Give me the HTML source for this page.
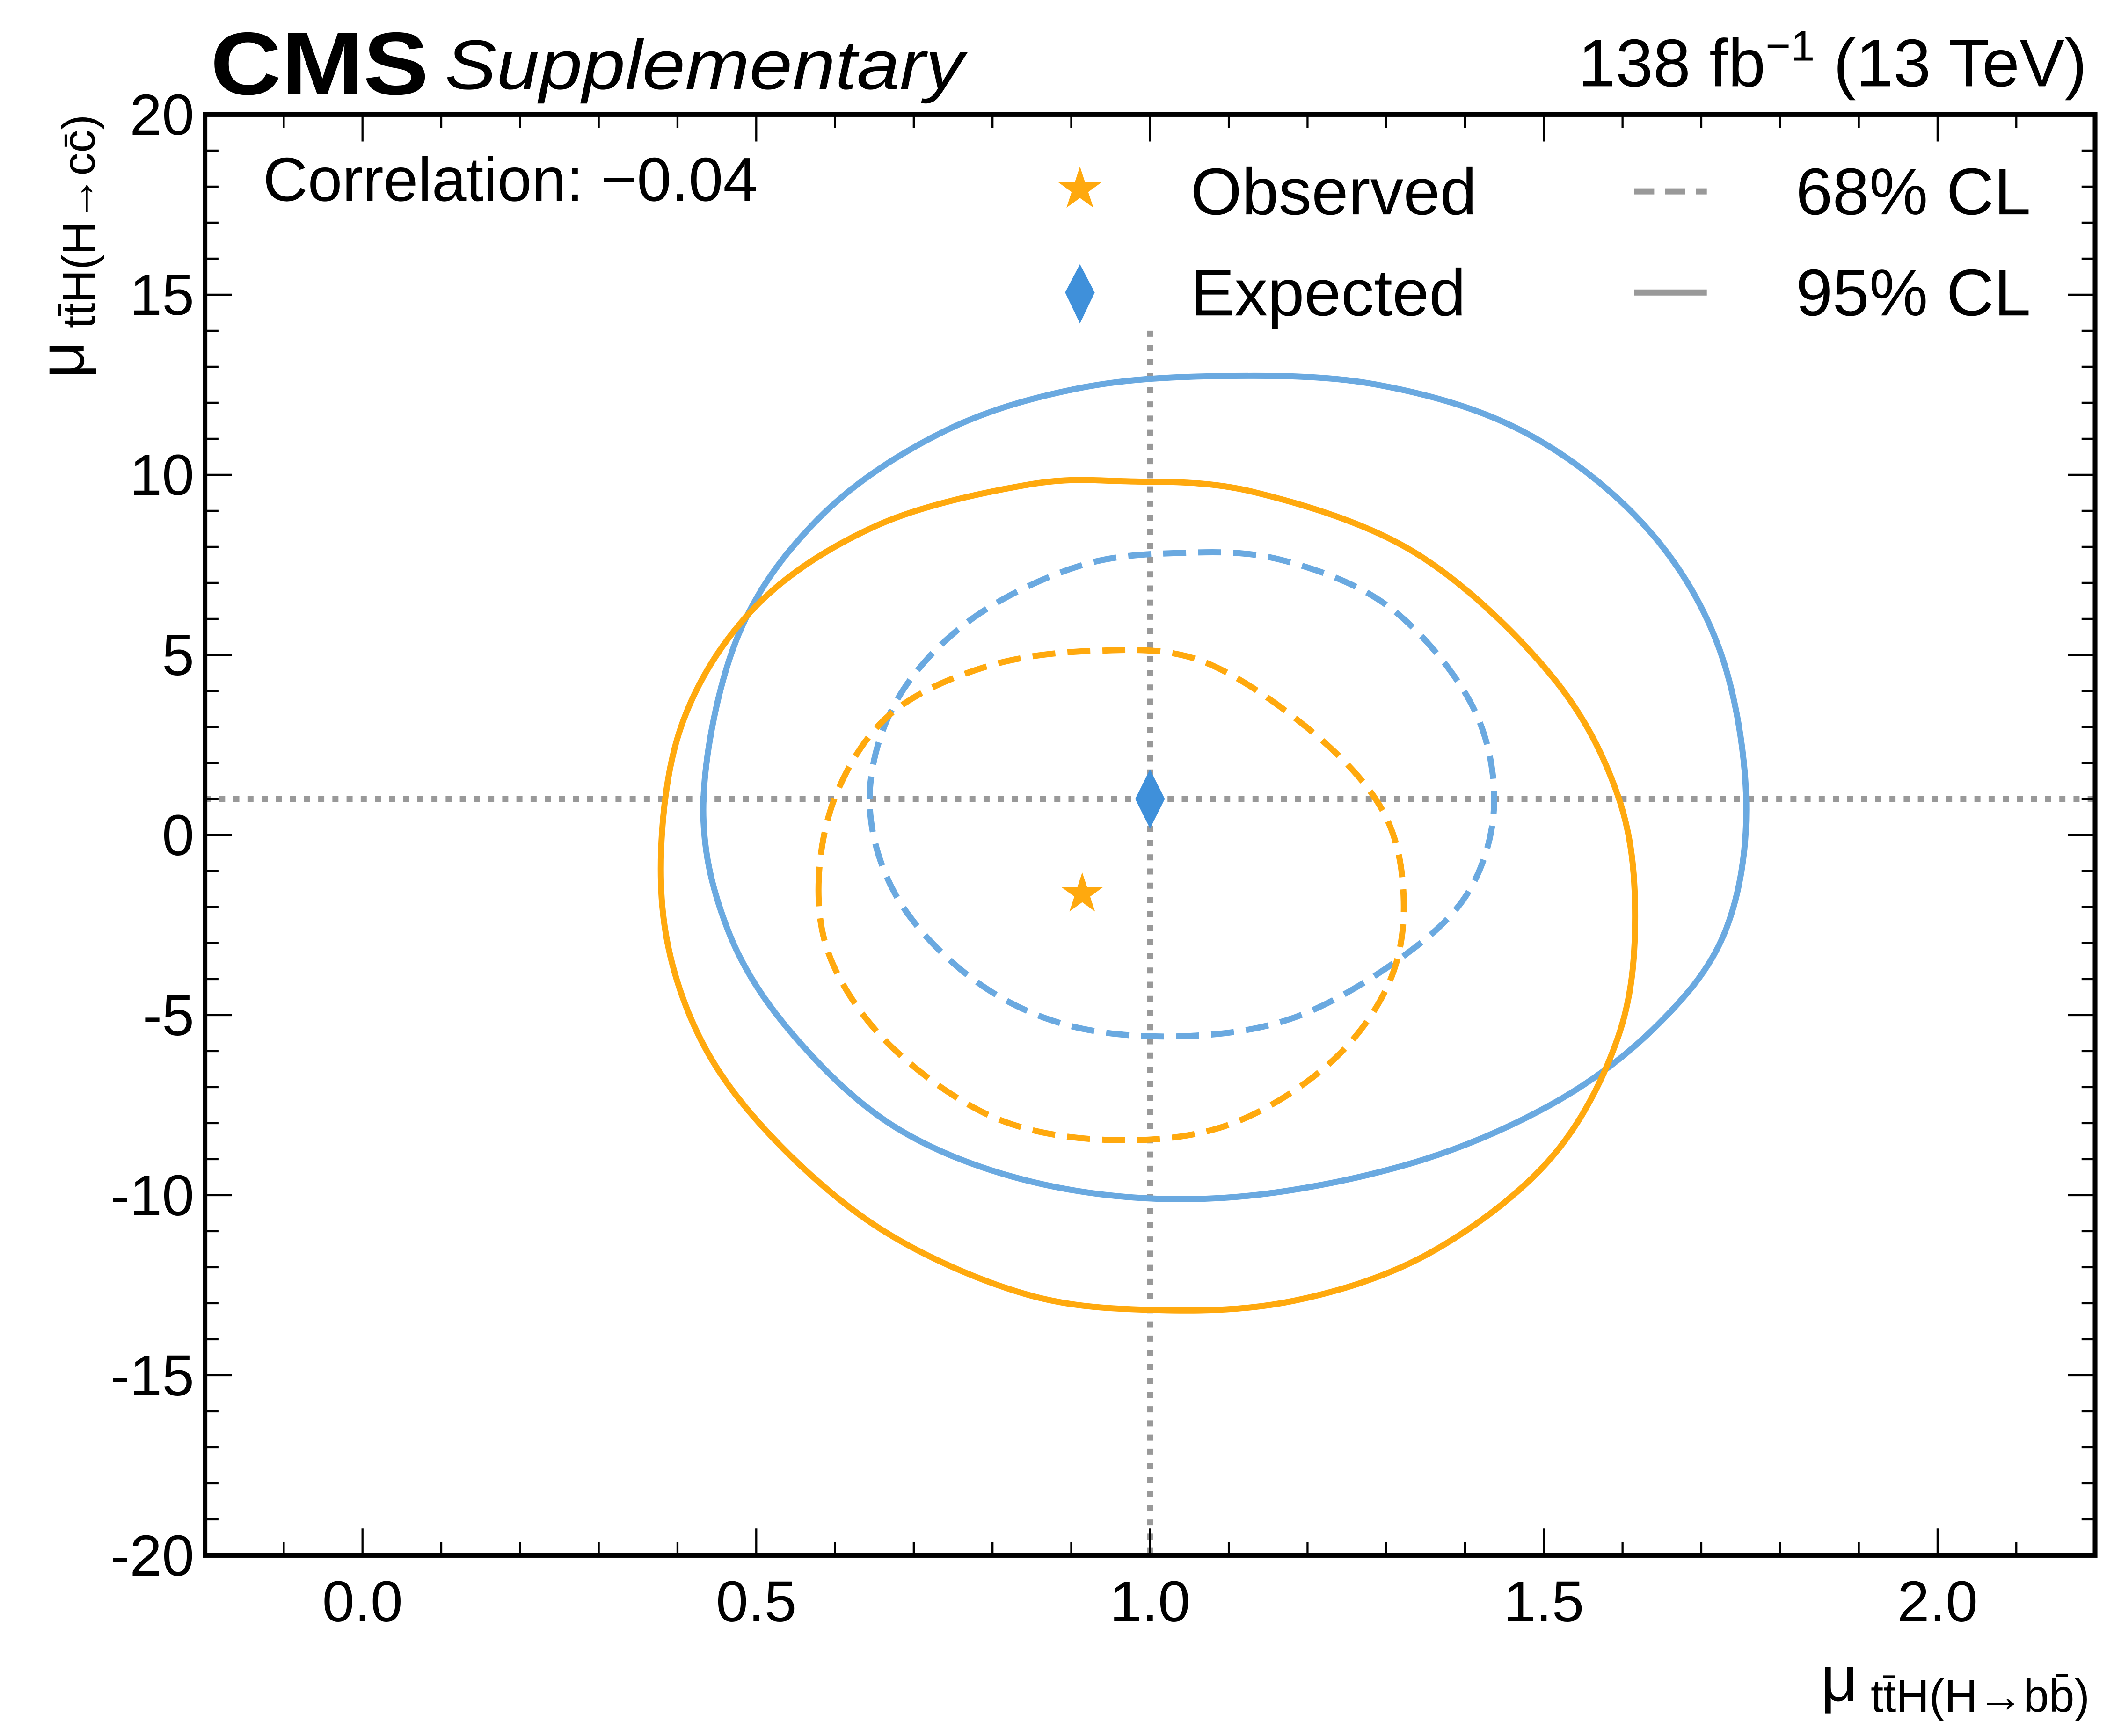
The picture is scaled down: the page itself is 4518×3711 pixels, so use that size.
<!DOCTYPE html>
<html><head><meta charset="utf-8"><style>html,body{margin:0;padding:0;background:#fff}svg{display:block}text{font-family:"Liberation Sans",sans-serif}</style></head>
<body>
<svg id="chart" xmlns="http://www.w3.org/2000/svg" width="4518" height="3711" viewBox="0 0 1568 1288">
<rect width="1568" height="1288" fill="#fff"/>
<g id="marks"></g>
<g id="axes"></g>
<rect x="152" y="85" width="1402" height="1069" fill="none" stroke="#000" stroke-width="3.5"/>
<text x="156" y="70" font-size="66" font-weight="bold" textLength="162" lengthAdjust="spacingAndGlyphs">CMS</text>
<text x="330" y="66" font-size="52" font-style="italic" textLength="385" lengthAdjust="spacingAndGlyphs">Supplementary</text>
<text x="1548" y="64" font-size="50" text-anchor="end">138 fb<tspan dy="-19" font-size="32">−1</tspan><tspan dy="19"> (13 TeV)</tspan></text>
<text x="195" y="149" font-size="46">Correlation: −0.04</text>
<g>
<text x="801" y="154" font-size="42" fill="#ffa90e" text-anchor="middle">★</text>
<text x="883" y="159" font-size="49">Observed</text>
<path d="M801 196 L812 217 L801 240 L790 217 Z" fill="#3f90da"/>
<text x="883" y="234" font-size="49">Expected</text>
<line x1="1212" y1="142" x2="1266" y2="142" stroke="#999" stroke-width="4.5" stroke-dasharray="15,8"/>
<text x="1332" y="159" font-size="49">68% CL</text>
<line x1="1212" y1="217" x2="1266" y2="217" stroke="#999" stroke-width="4.5"/>
<text x="1332" y="234" font-size="49">95% CL</text>
</g>
<text x="1550" y="1262" font-size="48" text-anchor="end">μ<tspan dy="8" font-size="34"> tt̄H(H→bb̄)</tspan></text>
<text transform="translate(62,85) rotate(-90)" x="0" y="0" font-size="48" text-anchor="end">μ<tspan dy="8" font-size="34"> tt̄H(H→cc̄)</tspan></text>
</svg>
<script>
const xTicks = [0.0, 0.5, 1.0, 1.5, 2.0];
const xTickLabels = ["0.0", "0.5", "1.0", "1.5", "2.0"];
const yTicks = [20, 15, 10, 5, 0, -5, -10, -15, -20];
const yTickLabels = ["20", "15", "10", "5", "0", "-5", "-10", "-15", "-20"];
const expected95X = [0.433,0.478,0.584,0.738,0.909,1.089,1.286,1.474,1.628,1.722,1.757,1.731,1.645,1.508,1.320,1.089,0.875,0.687,0.550,0.464];
const expected95Y = [0.99,5.59,8.89,11.20,12.40,12.74,12.51,11.20,8.59,5.22,0.99,-2.64,-5.26,-7.50,-9.19,-10.08,-9.75,-8.25,-5.63,-2.64];
const observed95X = [0.379,0.404,0.499,0.653,0.841,0.969,1.132,1.337,1.508,1.594,1.616,1.594,1.508,1.354,1.183,1.012,0.841,0.653,0.499,0.413];
const observed95Y = [-1.33,2.97,6.34,8.59,9.71,9.82,9.52,7.83,4.47,1.10,-2.26,-5.63,-9.00,-11.62,-12.93,-13.19,-12.74,-10.87,-7.88,-4.88];
const expected68X = [0.644,0.678,0.772,0.909,1.038,1.166,1.303,1.406,1.437,1.406,1.320,1.183,1.038,0.892,0.772,0.678];
const expected68Y = [0.99,3.72,5.97,7.46,7.83,7.64,6.34,3.72,0.99,-1.52,-3.39,-5.07,-5.59,-5.26,-3.95,-1.70];
const observed68X = [0.579,0.601,0.670,0.790,0.927,1.063,1.200,1.294,1.322,1.303,1.226,1.098,0.952,0.806,0.678,0.601];
const observed68Y = [-1.52,1.10,3.35,4.66,5.11,4.85,2.97,0.73,-1.70,-4.13,-6.38,-8.06,-8.47,-7.88,-6.01,-3.76];
const observedPoint = [0.914, -1.63];
const expectedPoint = [1.0, 1.0];
const refLineX = [1.0];
const refLineY = [1.0];

const X0=152,X1=1554,Y0=85,Y1=1154, XMIN=-0.2,XMAX=2.2,YMIN=-20,YMAX=20;
function sx(v){return X0+(v-XMIN)/(XMAX-XMIN)*(X1-X0);}
function sy(v){return Y1-(v-YMIN)/(YMAX-YMIN)*(Y1-Y0);}
const NS="http://www.w3.org/2000/svg";
const marks=document.getElementById('marks'), axes=document.getElementById('axes');
function mk(tag,attrs,parent){const e=document.createElementNS(NS,tag);for(const k in attrs)e.setAttribute(k,attrs[k]);parent.appendChild(e);return e;}

let el=mk('line',{x1:sx(refLineX[0]),x2:sx(refLineX[0]),y1:sy(14),y2:Y1,stroke:'#999',"stroke-width":4.5,"stroke-dasharray":"4.5,6"},marks);


el=mk('line',{x1:X0,x2:X1,y1:sy(refLineY[0]),y2:sy(refLineY[0]),stroke:'#999',"stroke-width":4.5,"stroke-dasharray":"4.5,6"},marks);



function closedPath(xs,ys){
  const p=xs.map((x,i)=>[sx(x),sy(ys[i])]);const n=p.length;let d=`M${p[0][0]},${p[0][1]}`;
  for(let i=0;i<n;i++){const p0=p[(i-1+n)%n],p1=p[i],p2=p[(i+1)%n],p3=p[(i+2)%n];
    const c1=[p1[0]+(p2[0]-p0[0])/6,p1[1]+(p2[1]-p0[1])/6],c2=[p2[0]-(p3[0]-p1[0])/6,p2[1]-(p3[1]-p1[1])/6];
    d+=` C${c1[0]},${c1[1]} ${c2[0]},${c2[1]} ${p2[0]},${p2[1]}`;}
  return d+'Z';
}
el=mk('path',{d:closedPath(expected95X,expected95Y),fill:'none',stroke:'#6aa9e0',"stroke-width":4.5},marks);


el=mk('path',{d:closedPath(observed95X,observed95Y),fill:'none',stroke:'#ffa90e',"stroke-width":4.5},marks);


el=mk('path',{d:closedPath(expected68X,expected68Y),fill:'none',stroke:'#6aa9e0',"stroke-width":4.5,"stroke-dasharray":"17,9"},marks);


el=mk('path',{d:closedPath(observed68X,observed68Y),fill:'none',stroke:'#ffa90e',"stroke-width":4.5,"stroke-dasharray":"17,9"},marks);



const ex=sx(expectedPoint[0]),ey=sy(expectedPoint[1]);
el=mk('path',{d:`M${ex},${ey-22} L${ex+11},${ey} L${ex},${ey+22} L${ex-11},${ey} Z`,fill:'#3f90da'},marks);


el=mk('text',{x:sx(observedPoint[0]),y:sy(observedPoint[1])+13,"font-size":40,fill:'#ffa90e',"text-anchor":'middle'},marks);
el.textContent='★';



for(let v=-0.1;v<=2.2001;v+=0.1){const r=Math.round(v*10)/10;const major=Math.abs(r*2-Math.round(r*2))<1e-6;const L=major?20:10;const x=sx(r);
  mk('line',{x1:x,x2:x,y1:Y1,y2:Y1-L,stroke:'#000',"stroke-width":1.5},axes);
  mk('line',{x1:x,x2:x,y1:Y0,y2:Y0+L,stroke:'#000',"stroke-width":1.5},axes);}
for(let v=-19;v<=19;v++){const major=v%5===0;const L=major?20:10;const y=sy(v);
  mk('line',{x1:X0,x2:X0+L,y1:y,y2:y,stroke:'#000',"stroke-width":1.5},axes);
  mk('line',{x1:X1,x2:X1-L,y1:y,y2:y,stroke:'#000',"stroke-width":1.5},axes);}
xTicks.forEach((v,i)=>{const t=mk('text',{x:sx(v),y:1203,"font-size":43,"text-anchor":'middle'},axes);t.textContent=xTickLabels[i];
  
  });
yTicks.forEach((v,i)=>{const t=mk('text',{x:144,y:sy(v)+15,"font-size":43,"text-anchor":'end'},axes);t.textContent=yTickLabels[i];
  
  });
</script>
</body></html>
